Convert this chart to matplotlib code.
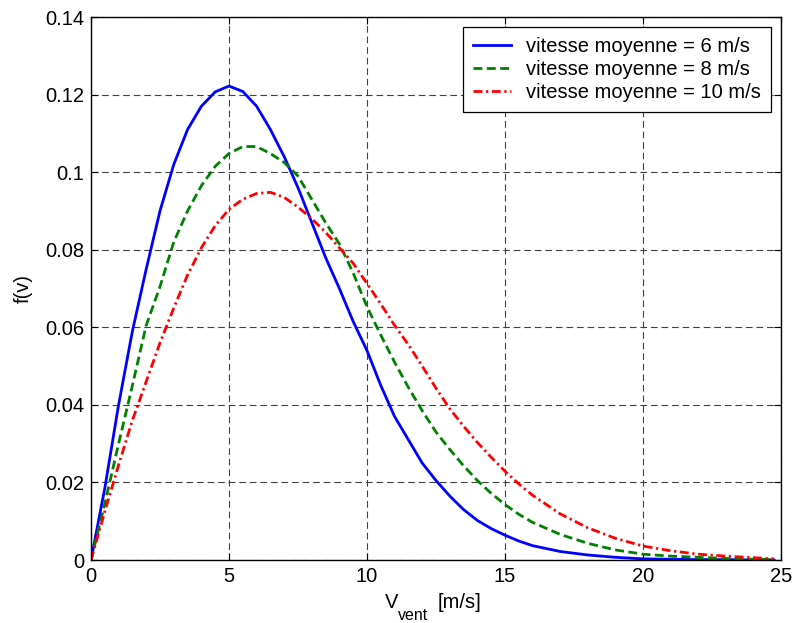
import matplotlib
matplotlib.use("Agg")
import matplotlib.pyplot as plt

plt.rcParams['font.family'] = ['Liberation Sans', 'DejaVu Sans']

# wind speed samples [m/s]
v = [0, 0.5, 1, 1.5, 2, 2.5, 3, 3.5, 4, 4.5, 5, 5.5, 6, 6.5, 7, 7.5, 8, 8.5,
     9, 9.5, 10, 10.5, 11, 11.5, 12, 12.5, 13, 13.5, 14, 14.5, 15, 15.5, 16,
     17, 18, 19, 20, 21, 22, 23, 24, 24.75]

# f(v)
f_6 = [0, 0.0185, 0.040, 0.059, 0.075, 0.090, 0.102, 0.111, 0.117, 0.1207,
       0.1222, 0.1208, 0.117, 0.111, 0.104, 0.096, 0.087, 0.078, 0.070,
       0.0615, 0.054, 0.045, 0.037, 0.031, 0.025, 0.0205, 0.0165, 0.013,
       0.0102, 0.0081, 0.0064, 0.0049, 0.0037, 0.0022, 0.0013, 0.0007,
       0.0003, 0.0002, 0.0001, 0.0001, 0.0, 0.0]
f_8 = [0, 0.0145, 0.030, 0.045, 0.0605, 0.0705, 0.082, 0.090, 0.0965, 0.1015,
       0.1048, 0.1066, 0.1066, 0.1048, 0.1025, 0.099, 0.093, 0.087, 0.0815,
       0.074, 0.0653, 0.058, 0.051, 0.0445, 0.0385, 0.033, 0.0285, 0.0243,
       0.0205, 0.0172, 0.0143, 0.0118, 0.0097, 0.0066, 0.0043, 0.0026,
       0.0015, 0.0010, 0.0007, 0.0004, 0.0002, 0.0001]
f_10 = [0, 0.0125, 0.0245, 0.036, 0.046, 0.056, 0.065, 0.0735, 0.0805, 0.0862,
        0.0904, 0.093, 0.0945, 0.0948, 0.0935, 0.091, 0.088, 0.0845, 0.0805,
        0.0765, 0.0713, 0.066, 0.0605, 0.0555, 0.050, 0.0443, 0.039, 0.0345,
        0.0303, 0.0265, 0.0229, 0.0196, 0.0167, 0.0119, 0.0083, 0.0056,
        0.0036, 0.0024, 0.0015, 0.0010, 0.0006, 0.0003]

labels = ['vitesse moyenne = 6 m/s', 'vitesse moyenne = 8 m/s',
          'vitesse moyenne = 10 m/s']

fs = 14.5

fig = plt.figure(figsize=(7.94, 6.23), dpi=100)
ax = fig.add_axes([0.1146, 0.1011, 0.869, 0.8716])

ax.plot(v, f_6, color='#0000ff', lw=2.0, ls='-', label=labels[0])
ax.plot(v, f_8, color='#008000', lw=2.0, ls=(0, (3.2, 1.6)), label=labels[1])
ax.plot(v, f_10, color='#ff0000', lw=2.0, ls=(0, (3.2, 1.3, 0.8, 1.3)),
        label=labels[2])

ax.set_xlim(0, 25)
ax.set_ylim(0, 0.14)
ax.set_xticks([0, 5, 10, 15, 20, 25])
ax.set_yticks([0, 0.02, 0.04, 0.06, 0.08, 0.1, 0.12, 0.14])
ax.set_yticklabels(['0', '0.02', '0.04', '0.06', '0.08', '0.1', '0.12', '0.14'])

ax.grid(True, color='0.25', lw=0.8, ls=(0, (6, 3.5)))
ax.tick_params(direction='in', length=5, width=0.8, top=True, right=True,
               labelsize=fs, pad=5, colors='black')
for sp in ax.spines.values():
    sp.set_linewidth(1.0)
    sp.set_color('black')

# x label with a large subscript, as in the original
fig.text(385 / 794, 1 - 608 / 623, 'V', fontsize=fs, va='baseline')
fig.text(398 / 794, 1 - 620 / 623, 'vent', fontsize=11.5, va='baseline')
fig.text(438 / 794, 1 - 608 / 623, '[m/s]', fontsize=fs, va='baseline')
ax.set_ylabel('f(v)', fontsize=fs, labelpad=9)

leg = ax.legend(loc='upper right', fontsize=fs, fancybox=False,
                framealpha=1, edgecolor='black', handlelength=1.9,
                borderaxespad=0.5, labelspacing=0.2, handletextpad=0.75,
                borderpad=0.5)
leg.get_frame().set_linewidth(0.9)

fig.savefig('out.png', dpi=100)
